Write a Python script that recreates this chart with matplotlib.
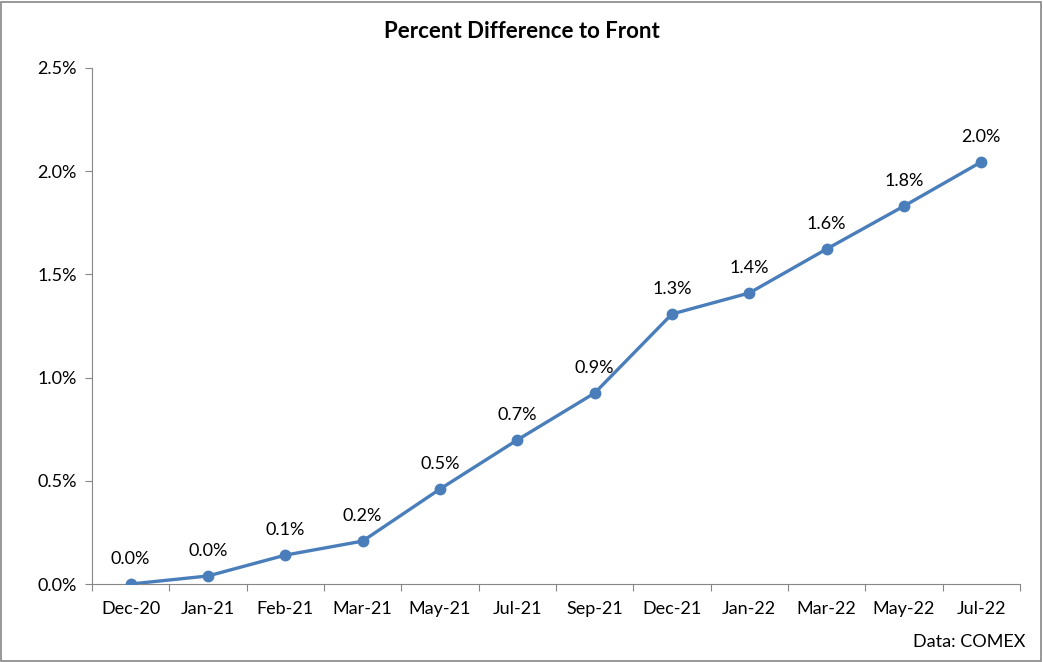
import matplotlib.pyplot as plt
import numpy as np

plt.rcParams['font.family'] = ['Lato', 'DejaVu Sans']

months = ['Dec-20', 'Jan-21', 'Feb-21', 'Mar-21', 'May-21', 'Jul-21',
          'Sep-21', 'Dec-21', 'Jan-22', 'Mar-22', 'May-22', 'Jul-22']
pct_diff = [0.000, 0.039, 0.140, 0.208, 0.460, 0.698,
            0.925, 1.308, 1.410, 1.623, 1.831, 2.045]
yticks = [0.0, 0.5, 1.0, 1.5, 2.0, 2.5]

fs = 13
fig = plt.figure(figsize=(10.43, 6.62), dpi=100)
ax = fig.add_axes([0.0882, 0.1178, 0.8897, 0.7795])

x = np.arange(len(months))
blue = '#4A7EBB'
ax.plot(x, pct_diff, color=blue, lw=2.4, marker='o', ms=7.5, zorder=3)

for xi, v in zip(x, pct_diff):
    ax.annotate(f'{v:.1f}%', (xi, v), textcoords='offset points', xytext=(0, 12),
                ha='center', va='bottom', fontsize=fs)

ax.set_xlim(-0.5, len(months) - 0.5)
ax.set_ylim(0, 2.5)
ax.set_yticks(yticks)
ax.set_yticklabels([f'{t:.1f}%' for t in yticks], fontsize=fs)
ax.set_xticks(np.arange(-0.5, len(months)), minor=False)
ax.set_xticklabels([])
ax.set_xticks(x, minor=True)
ax.set_xticklabels(months, minor=True, fontsize=fs)
ax.tick_params(axis='x', which='minor', length=0, pad=12)
ax.tick_params(axis='x', which='major', length=5, color='#868686', direction='out')
ax.tick_params(axis='y', length=5, color='#868686', direction='out', pad=6)

for side in ['top', 'right']:
    ax.spines[side].set_visible(False)
for side in ['left', 'bottom']:
    ax.spines[side].set_color('#868686')

fig.text(0.5, 0.952, 'Percent Difference to Front', ha='center', va='center',
         fontsize=16, fontweight='bold')
fig.text(0.983, 0.030, 'Data: COMEX', ha='right', va='center', fontsize=fs)

fig.patches.append(plt.Rectangle((0.001, 0.0015), 0.997, 0.996, transform=fig.transFigure,
                                 fill=False, edgecolor='#868686', lw=1.2))

plt.savefig('out.png', dpi=100)
